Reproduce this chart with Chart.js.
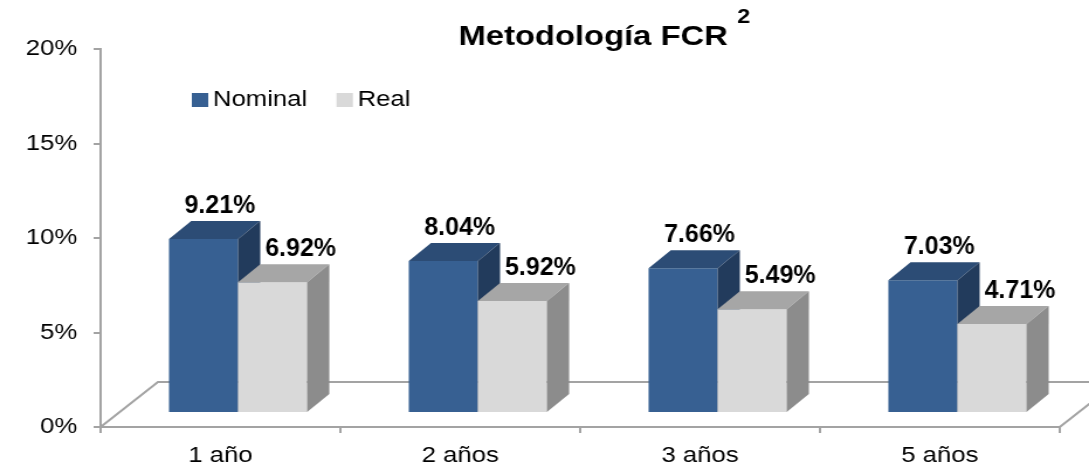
<!DOCTYPE html>
<html>
<head>
<meta charset="utf-8">
<script src="https://cdn.jsdelivr.net/npm/chart.js@4.4.0/dist/chart.umd.min.js"></script>
<style>
    html, body { margin: 0; padding: 0; background: #fff; }
</style>
</head>
<body>
<!-- the original picture is stretched sideways, so the canvas is too -->
<canvas id="fcrChart" width="931" height="472" style="display:block;width:1089px;height:472px"></canvas>
<script>
// ── Datos
const categories    = ['1 año', '2 años', '3 años', '5 años'];
const seriesNames   = ['Nominal', 'Real'];
const nominalValues = [9.21, 8.04, 7.66, 7.03];
const realValues    = [6.92, 5.92, 5.49, 4.71];
const yTicks        = [0, 5, 10, 15, 20];
const titleText     = 'Metodología FCR';
const titleSup      = '2';

// ── Estilo
const FONT       = '"Liberation Sans", Arial, sans-serif';
const AXIS_COLOR = '#a3a3a3';
const STRETCH    = 1089 / 931;
const SHIFT      = { x: 15, y: -14 };   // cara frontal respecto al eje
const DEPTH      = { x: 19, y: -18 };   // profundidad de cada barra
const FLOOR      = { x: 49, y: -45 };   // profundidad del piso
const FACES = [
    { front: '#376092', top: '#2c4c75', side: '#223b5c' },
    { front: '#d9d9d9', top: '#a6a6a6', side: '#8c8c8c' }
];
const LABEL_DX = [14, 24];

function poly(ctx, pts, color) {
    ctx.fillStyle = color;
    ctx.beginPath();
    ctx.moveTo(pts[0][0], pts[0][1]);
    for (let i = 1; i < pts.length; i++) ctx.lineTo(pts[i][0], pts[i][1]);
    ctx.closePath();
    ctx.fill();
}

// ── Plugin: barras 3D, piso, etiquetas, leyenda y título
const bars3d = {
    id: 'bars3d',
    beforeDatasetsDraw(chart) {
        const { ctx, chartArea: { left, right, bottom } } = chart;
        ctx.save();
        ctx.strokeStyle = AXIS_COLOR;
        ctx.lineWidth   = 2;
        ctx.beginPath();
        ctx.moveTo(left, bottom);
        ctx.lineTo(left + FLOOR.x, bottom + FLOOR.y);
        ctx.lineTo(right + FLOOR.x, bottom + FLOOR.y);
        ctx.moveTo(right, bottom);
        ctx.lineTo(right + FLOOR.x, bottom + FLOOR.y);
        ctx.stroke();
        ctx.restore();
    },
    // las barras se dibujan abajo, en orden Nominal -> Real
    beforeDatasetDraw() { return false; },
    afterDatasetsDraw(chart) {
        const ctx = chart.ctx;
        ctx.save();
        ctx.translate(SHIFT.x, SHIFT.y);
        chart.data.datasets.forEach((ds, di) => {
            const f = FACES[di];
            chart.getDatasetMeta(di).data.forEach(bar => {
                const { x, y, base, width } = bar.getProps(['x', 'y', 'base', 'width'], true);
                const l = x - width / 2, r = x + width / 2;
                bar.draw(ctx);
                poly(ctx, [[l, y], [l + DEPTH.x, y + DEPTH.y], [r + DEPTH.x, y + DEPTH.y], [r, y]], f.top);
                poly(ctx, [[r, y], [r + DEPTH.x, y + DEPTH.y], [r + DEPTH.x, base + DEPTH.y], [r, base]], f.side);
            });
        });
        ctx.restore();

        // etiquetas de datos
        ctx.save();
        ctx.fillStyle    = '#000';
        ctx.textAlign    = 'center';
        ctx.textBaseline = 'alphabetic';
        ctx.font         = 'bold 25px ' + FONT;
        chart.data.datasets.forEach((ds, di) => {
            chart.getDatasetMeta(di).data.forEach((bar, i) => {
                const { x, y } = bar.getProps(['x', 'y'], true);
                ctx.save();
                ctx.translate(x + SHIFT.x + LABEL_DX[di], y + SHIFT.y - 26);
                ctx.scale(1 / STRETCH, 1);
                ctx.fillText(ds.data[i].toFixed(2) + '%', 0, 0);
                ctx.restore();
            });
        });
        ctx.restore();
    },
    afterDraw(chart) {
        const { ctx, chartArea: { left } } = chart;
        ctx.save();
        // leyenda
        ctx.font         = '22px ' + FONT;
        ctx.textBaseline = 'middle';
        ctx.textAlign    = 'left';
        let lx = left + 78;
        chart.data.datasets.forEach((ds, di) => {
            ctx.fillStyle = FACES[di].front;
            ctx.fillRect(lx, 93, 14, 14);
            ctx.fillStyle = '#000';
            ctx.fillText(ds.label, lx + 18, 100);
            lx += 18 + ctx.measureText(ds.label).width + 25;
        });
        // título
        ctx.textBaseline = 'alphabetic';
        ctx.font = 'bold 28px ' + FONT;
        const tx = 392;
        ctx.fillText(titleText, tx, 45);
        const tw = ctx.measureText(titleText).width;
        ctx.font = 'bold 20px ' + FONT;
        ctx.fillText(titleSup, tx + tw + 8, 23);
        ctx.restore();
    }
};

new Chart(document.getElementById('fcrChart'), {
    type: 'bar',
    data: {
        labels: categories,
        datasets: [
            { label: seriesNames[0], data: nominalValues, backgroundColor: FACES[0].front, clip: false },
            { label: seriesNames[1], data: realValues,    backgroundColor: FACES[1].front, clip: false }
        ]
    },
    options: {
        responsive:          false,
        animation:           false,
        layout:              { padding: { top: 49, right: 25, left: 0, bottom: 0 } },
        datasets: { bar: { categoryPercentage: 0.576, barPercentage: 1 } },
        plugins: {
            legend:  { display: false },
            title:   { display: false },
            tooltip: { enabled: false }
        },
        scales: {
            x: {
                border: { color: AXIS_COLOR, width: 2 },
                grid:   { offset: true, drawOnChartArea: false, tickLength: 6, color: AXIS_COLOR, lineWidth: 2 },
                ticks:  { color: '#000', font: { family: FONT, size: 22 }, padding: 10, maxRotation: 0 },
                afterFit: s => { s.height = 45; }
            },
            y: {
                min: 0,
                max: 20,
                afterBuildTicks: s => { s.ticks = yTicks.map(v => ({ value: v })); },
                border: { color: AXIS_COLOR, width: 2 },
                grid:   { drawOnChartArea: false, tickLength: 6, color: AXIS_COLOR, lineWidth: 2 },
                ticks:  { color: '#000', font: { family: FONT, size: 22 }, padding: 14, callback: v => v + '%' },
                afterFit: s => { s.width = 86; }
            }
        }
    },
    plugins: [bars3d]
});
</script>
</body>
</html>
